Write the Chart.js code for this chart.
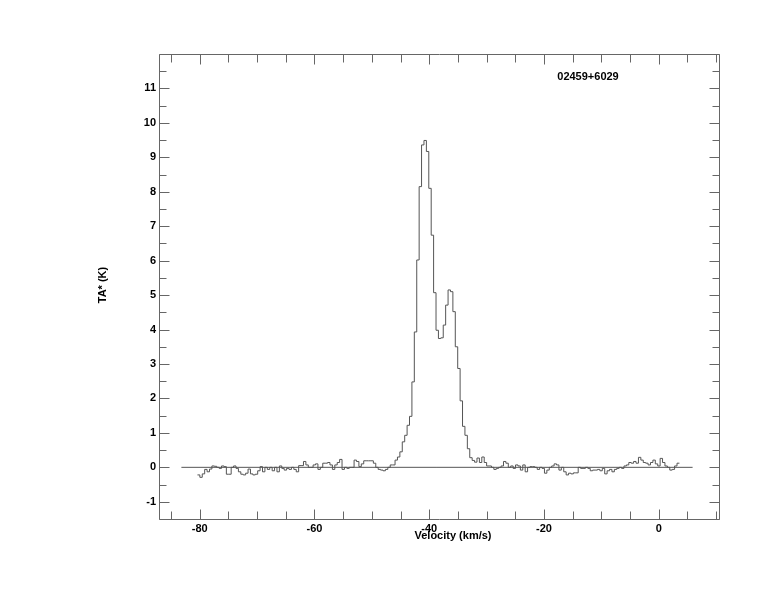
<!DOCTYPE html>
<html>
<head>
<meta charset="utf-8">
<script src="https://cdn.jsdelivr.net/npm/chart.js@4.4.1/dist/chart.umd.min.js"></script>
<style>
  html, body { margin: 0; padding: 0; background: #fff; }
  canvas { display: block; }
</style>
</head>
<body>
<canvas id="spec" width="774" height="612"></canvas>
<script>
// spectrum header: first channel left edge and channel width (km/s)
const firstChannelEdge = -80.4;
const channelWidth = 0.42;

// antenna temperature per channel (K)
const taValues = [
  -0.22, -0.29, -0.19, -0.06, -0.13, -0.05, 0.04, 0.03, 0.00, -0.03,
  0.04, 0.02, -0.20, -0.20, 0.00, 0.04, -0.03, -0.13, -0.20, -0.22,
  -0.17, -0.05, -0.19, -0.22, -0.20, -0.10, 0.02, -0.13, 0.00, -0.06,
  0.00, -0.10, 0.00, -0.13, 0.04, -0.03, -0.08, -0.03, -0.06, 0.00,
  -0.06, -0.13, 0.05, 0.05, 0.17, 0.07, 0.00, 0.00, 0.07, 0.10,
  -0.06, 0.00, 0.12, 0.12, 0.14, 0.07, -0.06, 0.07, 0.14, 0.23,
  -0.06, 0.00, -0.03, 0.00, 0.00, 0.21, 0.17, 0.02, 0.10, 0.19,
  0.19, 0.19, 0.19, 0.12, 0.00, -0.06, -0.08, -0.10, -0.06, 0.00,
  0.07, 0.07, 0.21, 0.30, 0.45, 0.74, 0.93, 1.22, 1.48, 2.48,
  3.93, 6.02, 8.15, 9.36, 9.49, 9.17, 8.10, 6.74, 5.07, 3.98,
  3.74, 3.76, 4.13, 4.71, 5.15, 5.10, 4.52, 3.50, 2.87, 1.93,
  1.19, 0.93, 0.54, 0.28, 0.20, 0.15, 0.27, 0.14, 0.30, 0.14,
  0.04, 0.04, 0.00, -0.06, -0.03, 0.00, 0.04, 0.17, 0.12, 0.00,
  0.04, -0.03, 0.07, 0.04, -0.08, 0.07, -0.13, 0.00, 0.02, 0.02,
  0.00, -0.06, 0.00, -0.03, -0.17, -0.08, 0.00, 0.04, 0.10, 0.07,
  -0.08, 0.00, -0.13, -0.22, -0.17, -0.19, -0.16, -0.16, 0.00, -0.03,
  -0.03, 0.00, -0.03, -0.10, -0.08, -0.08, -0.06, -0.10, -0.03, -0.19,
  -0.10, -0.06, -0.13, -0.06, -0.03, 0.00, -0.03, 0.04, 0.07, 0.14,
  0.12, 0.17, 0.12, 0.29, 0.21, 0.14, 0.12, 0.07, 0.14, 0.21,
  0.10, 0.04, 0.26, 0.14, 0.04, 0.00, -0.08, -0.06, 0.04, 0.12
];

// zero baseline drawn under the spectrum
const baselineRange = [-83.2, 5.9];

const xRange = [-87.1, 10.5];
const yRange = [-1.5, 12];
const xTickLabels = [-80, -60, -40, -20, 0];
const yTickLabels = [-1, 0, 1, 2, 3, 4, 5, 6, 7, 8, 9, 10, 11];
const xMinorStep = 5;
const yMinorStep = 0.5;

const sourceName = '02459+6029';
const xTitle = 'Velocity (km/s)';
const yTitle = 'TA* (K)';

const lineColor = '#555';
const frameColor = '#666';
const fontFamily = '"Liberation Sans", Arial, Helvetica, sans-serif';

// build stepped points at channel edges, plus closing edge
const specPoints = taValues.map((t, i) => ({ x: firstChannelEdge + i * channelWidth, y: t }));
specPoints.push({ x: firstChannelEdge + taValues.length * channelWidth, y: taValues[taValues.length - 1] });

const framePlugin = {
    id: 'frame',
    afterDatasetsDraw(chart) {
        const ctx = chart.ctx;
        const a = chart.chartArea;
        const xs = chart.scales.x;
        const ys = chart.scales.y;
        const L = Math.floor(a.left) + 0.5, R = Math.floor(a.right) + 0.5;
        const T = Math.floor(a.top) + 0.5, B = Math.floor(a.bottom) + 0.5;

        ctx.save();
        ctx.strokeStyle = frameColor;
        ctx.lineWidth = 1;
        ctx.beginPath();
        ctx.rect(L, T, R - L, B - T);

        // x ticks, top and bottom, pointing inward
        const firstX = Math.ceil(xRange[0] / xMinorStep) * xMinorStep;
        for (let v = firstX; v <= xRange[1]; v += xMinorStep) {
            const px = Math.round(xs.getPixelForValue(v)) + 0.5;
            const len = xTickLabels.includes(v) ? 10 : 8;
            ctx.moveTo(px, B); ctx.lineTo(px, B - len);
            ctx.moveTo(px, T); ctx.lineTo(px, T + len);
        }
        // y ticks, left and right
        for (let v = yRange[0]; v <= yRange[1] + 1e-9; v += yMinorStep) {
            const py = Math.round(ys.getPixelForValue(v)) + 0.5;
            const len = Number.isInteger(v) ? 10 : 7;
            ctx.moveTo(L, py); ctx.lineTo(L + len, py);
            ctx.moveTo(R, py); ctx.lineTo(R - len, py);
        }
        ctx.stroke();

        ctx.fillStyle = '#000';
        ctx.font = 'bold 11px ' + fontFamily;
        ctx.textAlign = 'center';
        ctx.textBaseline = 'middle';
        ctx.fillText(sourceName, 588, 77);
        ctx.fillText(xTitle, 453, 536);

        ctx.translate(103, 285);
        ctx.rotate(-Math.PI / 2);
        ctx.fillText(yTitle, 0, 0);
        ctx.restore();
    }
};

new Chart(document.getElementById('spec'), {
    type: 'line',
    data: {
        datasets: [
            {
                data: specPoints,
                borderColor: lineColor,
                borderWidth: 1,
                pointRadius: 0,
                stepped: 'before',
                fill: false
            },
            {
                data: baselineRange.map(v => ({ x: v, y: 0 })),
                borderColor: lineColor,
                borderWidth: 1,
                pointRadius: 0,
                fill: false
            }
        ]
    },
    options: {
        responsive: false,
        animation: false,
        events: [],
        layout: { padding: { top: 54, right: 55, left: 0, bottom: 0 } },
        plugins: { legend: { display: false }, tooltip: { enabled: false } },
        scales: {
            x: {
                type: 'linear',
                min: xRange[0],
                max: xRange[1],
                grid: { display: false, drawTicks: false },
                border: { display: false },
                afterBuildTicks: s => { s.ticks = xTickLabels.map(v => ({ value: v })); },
                afterFit: s => { s.height = 93; },
                ticks: {
                    color: '#000',
                    padding: 3,
                    maxRotation: 0,
                    autoSkip: false,
                    font: { family: fontFamily, size: 11, weight: 'bold' }
                }
            },
            y: {
                type: 'linear',
                min: yRange[0],
                max: yRange[1],
                grid: { display: false, drawTicks: false },
                border: { display: false },
                afterBuildTicks: s => { s.ticks = yTickLabels.map(v => ({ value: v })); },
                afterFit: s => { s.width = 159; },
                ticks: {
                    color: '#000',
                    padding: 3,
                    autoSkip: false,
                    font: { family: fontFamily, size: 11, weight: 'bold' }
                }
            }
        }
    },
    plugins: [framePlugin]
});
</script>
</body>
</html>
